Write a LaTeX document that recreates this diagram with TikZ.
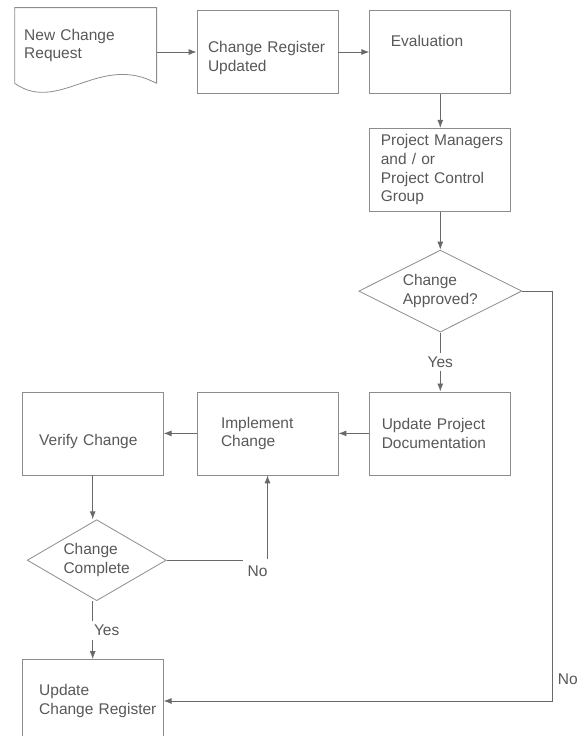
\documentclass[tikz,border=0pt]{standalone}
\usepackage{fontspec}
\setmainfont{Liberation Sans}
\usetikzlibrary{positioning,arrows.meta,shapes.geometric}
\definecolor{InkGray}{RGB}{88,88,88}
\definecolor{LineGray}{RGB}{105,105,105}
\definecolor{BoxGray}{RGB}{140,140,140}

\begin{document}
\begin{tikzpicture}[
  font=\fontsize{15.5pt}{18.6pt}\selectfont,
  box/.style={rectangle,draw=BoxGray,line width=0.8pt,minimum width=141pt,minimum height=83pt,align=left,inner xsep=#1,text width=141pt-2*#1,text=InkGray},
  box/.default=11pt,
  doc/.style={box=#1,draw=none,minimum height=75pt},
  doc/.default=9pt,
  decision/.style={diamond,aspect=2,draw=BoxGray,line width=0.8pt,minimum width=163pt,minimum height=82pt,inner sep=0pt,align=left,text=InkGray},
  arr/.style={-{Latex[length=8pt,width=6pt]},draw=LineGray,line width=0.9pt},
  lbl/.style={fill=white,text=InkGray,inner sep=4pt}
]
\useasboundingbox (0,0) rectangle (576pt,-736pt);
% top row
\node[box,text height=23pt] (cru) at (267.5pt,-52pt) {\mbox{Change Register}\\Updated};
\node[doc,left=40pt of cru,yshift=6.5pt] (ncr) {New Change\\Request};
\node[box=21pt,text depth=22pt,right=31pt of cru] (eval) {Evaluation};
% right column
\node[box,below=34pt of eval] (pm) {\mbox{Project Managers}\\and / or\\Project Control\\Group};
\node[decision,below=38pt of pm] (appr) {Change\\Approved?};
\node[box=12pt,below=59pt of appr] (upd) {Update Project\\Documentation};
% middle row, right to left
\node[box=24pt,left=31pt of upd] (impl) {Implement\\Change};
\node[box=17pt,text height=28pt,left=33pt of impl] (verify) {Verify Change};
\node[decision,minimum width=139pt,minimum height=81pt,below=44pt of verify,xshift=4pt] (comp) {Change\\Complete};
\node[box=17pt,below=58pt of comp,xshift=-4pt] (ucr) {Update\\\mbox{Change Register}};

% document outline
\draw[draw=BoxGray,line width=0.8pt] (ncr.south east) -- (ncr.north east) -- (ncr.north west) -- (ncr.south west)
  .. controls +(44pt,-31pt) and +(-57pt,31pt) .. (ncr.south east);

\draw[arr] (ncr.east |- cru.west) -- (cru.west);
\draw[arr] (cru) -- (eval);
\draw[arr] (eval) -- (pm);
\draw[arr] (pm) -- (appr);
\draw[arr] (appr) -- node[lbl] {Yes} (upd);
\draw[arr] (upd) -- (impl);
\draw[arr] (impl) -- (verify);
\draw[arr] (verify.south) -- (verify.south |- comp.north);
\draw[arr] (comp.south -| ucr.north) -- node[lbl,xshift=14pt] {Yes} (ucr.north);
\draw[arr] (comp.east) -| node[lbl,pos=0.5,xshift=-10pt,yshift=-11pt,inner xsep=5pt,inner ysep=7pt] {No} (impl.south);
\draw[arr] (appr.east) -- ++(30pt,0) |- node[pos=0.473,right=2pt,text=InkGray] {No} (ucr.east);
\end{tikzpicture}
\end{document}
